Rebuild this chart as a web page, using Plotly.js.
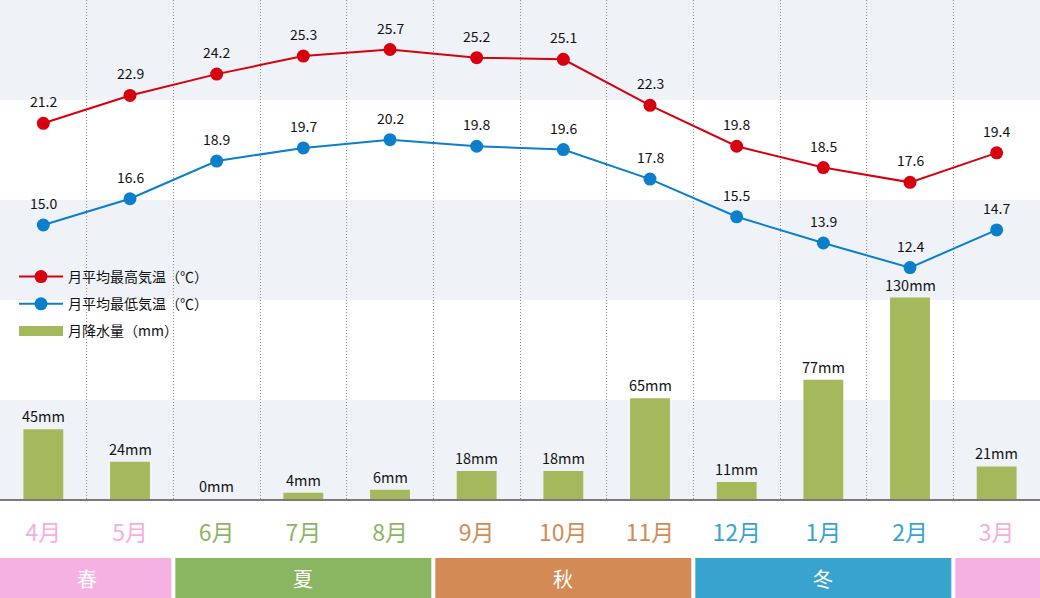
<!DOCTYPE html>
<html>
<head>
<meta charset="utf-8">
<script src="https://cdn.plot.ly/plotly-3.0.1.min.js"></script>
<style>html,body{margin:0;padding:0;background:#fff;}#chart{width:1040px;height:598px;}</style>
</head>
<body>
<div id="chart"></div>
<script>
// ---- data ----
const months = ['4月','5月','6月','7月','8月','9月','10月','11月','12月','1月','2月','3月'];
const monthColors = ['#f5aede','#f5aede','#8ab660','#8ab660','#8ab660','#d48a55','#d48a55','#d48a55','#39a3cf','#39a3cf','#39a3cf','#f5aede'];
const highTemp = [21.2, 22.9, 24.2, 25.3, 25.7, 25.2, 25.1, 22.3, 19.8, 18.5, 17.6, 19.4];
const lowTemp  = [15.0, 16.6, 18.9, 19.7, 20.2, 19.8, 19.6, 17.8, 15.5, 13.9, 12.4, 14.7];
const rainfall = [45, 24, 0, 4, 6, 18, 18, 65, 11, 77, 130, 21];
const seasonNames  = ['春', '夏', '秋', '冬', ''];
const seasonStart  = [0, 2, 5, 8, 11];
const seasonEnd    = [1, 4, 7, 10, 11];
const seasonColors = ['#f5b1e2', '#8bb661', '#d48a55', '#39a3cf', '#f5b1e2'];

const FONT = '"Noto Sans CJK JP", "Noto Sans", sans-serif';
const RED = '#d7000f', BLUE = '#0b7fcc', GREEN = '#a3b95b', BAND = '#eff3f7';
const W = 1040, H = 598, MB = 99, PH = H - MB;
const py = px => (PH - px) / PH; // pixel from top -> paper y

const traces = [
  {type:'bar', x: months, y: rainfall, yaxis:'y2', marker:{color: GREEN},
   showlegend:false, hoverinfo:'skip'},
  {type:'scatter', mode:'lines+markers', x: months, y: highTemp, name:'月平均最高気温（℃）',
   legendgroup:'a', line:{color: RED, width:2}, marker:{color: RED, size:13}, hoverinfo:'skip'},
  {type:'scatter', mode:'lines+markers', x: months, y: lowTemp, name:'月平均最低気温（℃）',
   legendgroup:'b', line:{color: BLUE, width:2}, marker:{color: BLUE, size:13}, hoverinfo:'skip'},
  {type:'scatter', mode:'lines', x:[null], y:[null], name:'月降水量（mm）',
   legendgroup:'c', line:{color: GREEN, width:13}, hoverinfo:'skip'}
];

const shapes = [];
[[0,100],[200,300],[400,PH]].forEach(b => shapes.push({type:'rect', xref:'paper', yref:'paper',
  x0:0, x1:1, y0:py(b[1]), y1:py(b[0]), fillcolor: BAND, line:{width:0}, layer:'below'}));
const gap = 2 / (W / months.length);
seasonNames.forEach((n, i) => {
  const x0 = seasonStart[i] === 0 ? -0.5 : seasonStart[i] - 0.5 + gap;
  const x1 = seasonEnd[i] === months.length - 1 ? months.length - 0.5 : seasonEnd[i] + 0.5 - gap;
  shapes.push({type:'rect', xref:'x', yref:'paper', x0, x1, y0:py(H), y1:py(558),
    fillcolor: seasonColors[i], line:{width:0}});
});

const annotations = [];
highTemp.forEach((v, i) => annotations.push({x: months[i], y: v, xref:'x', yref:'y', text: v.toFixed(1),
  showarrow:false, yanchor:'bottom', yshift:10, font:{family:FONT, size:14, color:'#111'}}));
lowTemp.forEach((v, i) => annotations.push({x: months[i], y: v, xref:'x', yref:'y', text: v.toFixed(1),
  showarrow:false, yanchor:'bottom', yshift:10, font:{family:FONT, size:14, color:'#111'}}));
rainfall.forEach((v, i) => annotations.push({x: months[i], y: v, xref:'x', yref:'y2', text: v + 'mm',
  showarrow:false, yanchor:'bottom', yshift:1, font:{family:FONT, size:14.5, color:'#111'}}));
seasonNames.forEach((n, i) => { if (n) annotations.push({x: (seasonStart[i] + seasonEnd[i]) / 2, xref:'x',
  y: py(578), yref:'paper', text: n, showarrow:false, yanchor:'middle',
  font:{family:FONT, size:20, color:'#fff'}}); });

const layout = {
  width: W, height: H,
  margin:{l:0, r:0, t:0, b:MB, pad:0},
  paper_bgcolor:'#fff', plot_bgcolor:'rgba(0,0,0,0)',
  font:{family: FONT},
  bargap: 0.54,
  xaxis:{type:'category', tickvals: months, range:[-0.5, months.length - 0.5], autorange:false,
    ticktext: months.map((m, i) => '<span style="color:' + monthColors[i] + '">' + m + '</span>'),
    tickfont:{family:FONT, size:23}, ticks:'', ticklabelstandoff:12,
    showgrid:true, tickson:'boundaries', griddash:'1px,2px', gridcolor:'#8c8c8c', gridwidth:1,
    showline:true, linecolor:'#7a7a7a', linewidth:2, zeroline:false, fixedrange:true},
  yaxis:{range:[-1.71, 28.72], showgrid:false, zeroline:false, showticklabels:false,
    showline:true, linecolor:'#8a8a8a', linewidth:2, fixedrange:true},
  yaxis2:{range:[0, 322], overlaying:'y', showgrid:false, zeroline:false, showticklabels:false, fixedrange:true},
  legend:{x: 14/W, xanchor:'left', y: py(261), yanchor:'top', bgcolor:'rgba(0,0,0,0)',
    font:{family:FONT, size:14, color:'#111'}, itemwidth:44, tracegroupgap:6, traceorder:'grouped'},
  shapes, annotations
};

Plotly.newPlot('chart', traces, layout, {displayModeBar:false, staticPlot:true});
</script>
</body>
</html>
